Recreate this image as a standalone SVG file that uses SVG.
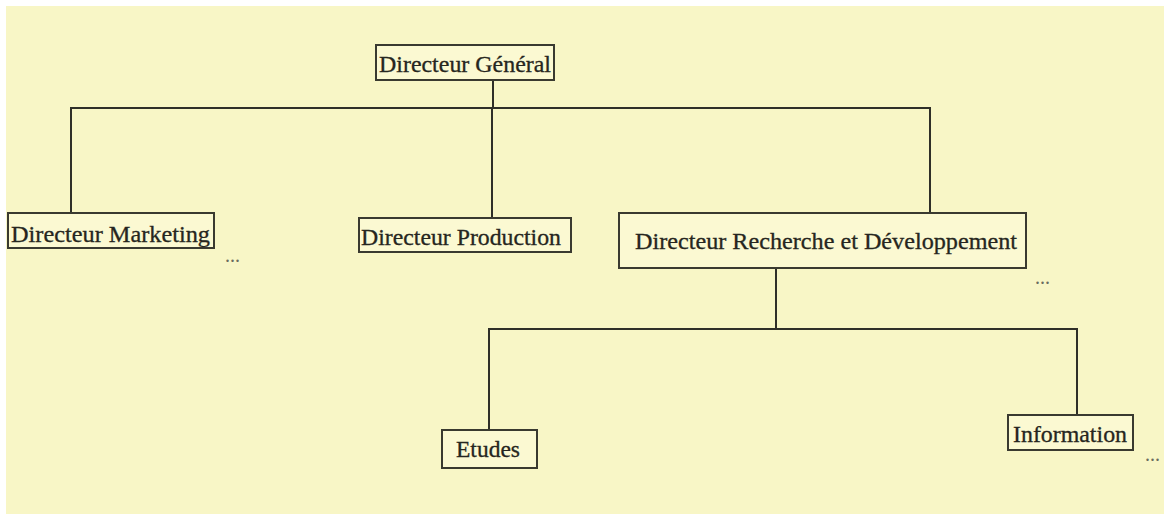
<svg xmlns="http://www.w3.org/2000/svg" width="1164" height="515" viewBox="0 0 1164 515">
  <style>
    .box { fill: #fbf9d2; stroke: #3a3a30; stroke-width: 2; }
    .lbl { font-family: "Liberation Serif", "Times New Roman", serif; font-size: 23px; fill: #262620; stroke: #262620; stroke-width: 0.3; }
    .link { fill: none; stroke: #2f2f28; stroke-width: 2; }
    .more { font-family: "Liberation Serif", serif; font-size: 20px; fill: #6a6a60; }
  </style>
  <rect x="0" y="0" width="1164" height="515" fill="#ffffff"/>
  <rect x="6" y="6" width="1158" height="508" fill="#f8f6c6"/>

  <g id="connectors">
    <path class="link" d="M493 80 V108"/>
    <path class="link" d="M71 213 V108 H930 V213"/>
    <path class="link" d="M492 108 V218"/>
    <path class="link" d="M776 268 V329"/>
    <path class="link" d="M489 430 V329 H1077 V415"/>
  </g>

  <g id="directeur-general">
    <rect class="box" x="376" y="45" width="178" height="35"/>
    <text class="lbl" x="379" y="72" textLength="172" lengthAdjust="spacingAndGlyphs">Directeur Général</text>
  </g>

  <g id="directeur-marketing">
    <rect class="box" x="8" y="213" width="206" height="35"/>
    <text class="lbl" x="11" y="242" textLength="199" lengthAdjust="spacingAndGlyphs">Directeur Marketing</text>
  </g>

  <g id="directeur-production">
    <rect class="box" x="359" y="218" width="212" height="34"/>
    <text class="lbl" x="361" y="245" textLength="200" lengthAdjust="spacingAndGlyphs">Directeur Production</text>
  </g>

  <g id="directeur-rd">
    <rect class="box" x="619" y="213" width="407" height="55"/>
    <text class="lbl" x="635" y="249" textLength="382" lengthAdjust="spacingAndGlyphs">Directeur Recherche et Développement</text>
  </g>

  <g id="etudes">
    <rect class="box" x="442" y="430" width="95" height="38"/>
    <text class="lbl" x="456" y="457" textLength="64" lengthAdjust="spacingAndGlyphs">Etudes</text>
  </g>

  <g id="information">
    <rect class="box" x="1008" y="415" width="125" height="35"/>
    <text class="lbl" x="1013" y="442" textLength="114" lengthAdjust="spacingAndGlyphs">Information</text>
  </g>

  <g id="ellipses">
    <text class="more" x="225" y="262" textLength="15" lengthAdjust="spacingAndGlyphs">...</text>
    <text class="more" x="1035" y="284" textLength="15" lengthAdjust="spacingAndGlyphs">...</text>
    <text class="more" x="1145" y="461" textLength="15" lengthAdjust="spacingAndGlyphs">...</text>
  </g>
</svg>
